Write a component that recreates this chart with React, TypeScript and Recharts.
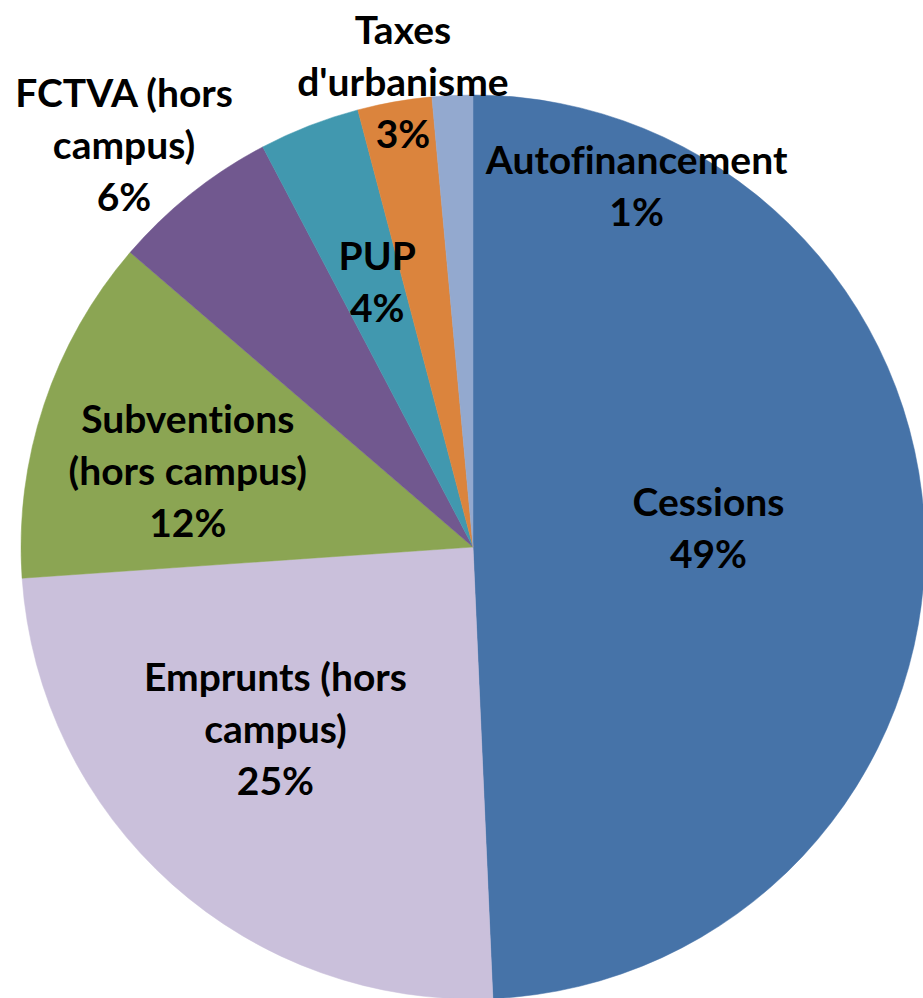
import React from "react";
import { PieChart, Pie, Cell } from "recharts";

// Categories (line breaks as in the original labels)
const categories = [
  "Cessions",
  "Emprunts (hors\ncampus)",
  "Subventions\n(hors campus)",
  "FCTVA (hors\ncampus)",
  "PUP",
  "Taxes\nd'urbanisme",
  "Autofinancement",
];

// Share of financing, in percent
const shares = [49.3, 24.6, 12.4, 6.0, 3.6, 2.65, 1.45];

const colors = [
  "#4673A8",
  "#CAC0DB",
  "#8BA553",
  "#71588F",
  "#4198AF",
  "#DB843D",
  "#93A9CF",
];

// label placement, as fractions of the radius from the centre (like Excel's dragged labels)
const labelOffsets: [number, number][] = [
  [0.521, -0.044],
  [-0.437, 0.4],
  [-0.631, -0.17],
  [-0.772, -0.891],
  [-0.212, -0.589],
  [-0.155, -1.031],
  [0.362, -0.801],
];

const data = categories.map((name, i) => ({ name, value: shares[i] }));

const LINE_H = 52;

const renderLabel = (props: any) => {
  const { cx, cy, outerRadius, index, percent } = props;
  const [fx, fy] = labelOffsets[index];
  const x = cx + fx * outerRadius;
  const y = cy + fy * outerRadius;
  const lines = [...categories[index].split("\n"), `${Math.round(percent * 100)}%`];
  const top = y - ((lines.length - 1) * LINE_H) / 2;
  return (
    <text
      x={x}
      y={top}
      textAnchor="middle"
      fill="#000"
      style={{
        fontFamily: "Lato, 'Open Sans', sans-serif",
        fontWeight: 700,
        fontSize: 39,
        fontVariantLigatures: "none",
      }}
    >
      {lines.map((l, i) => (
        <tspan key={i} x={x} y={top + i * LINE_H} dominantBaseline="central">
          {l}
        </tspan>
      ))}
    </text>
  );
};

export default function App() {
  return (
    <div style={{ position: "absolute", left: 0, top: 0, background: "#fff" }}>
      <PieChart width={923} height={998} margin={{ top: 0, right: 0, bottom: 0, left: 0 }}>
        <Pie
          data={data}
          dataKey="value"
          nameKey="name"
          cx={473}
          cy={547}
          outerRadius={452}
          startAngle={90}
          endAngle={-270}
          label={renderLabel}
          labelLine={false}
          isAnimationActive={false}
        >
          {data.map((d, i) => (
            <Cell key={d.name} fill={colors[i]} stroke={colors[i]} strokeWidth={0.5} />
          ))}
        </Pie>
      </PieChart>
    </div>
  );
}
